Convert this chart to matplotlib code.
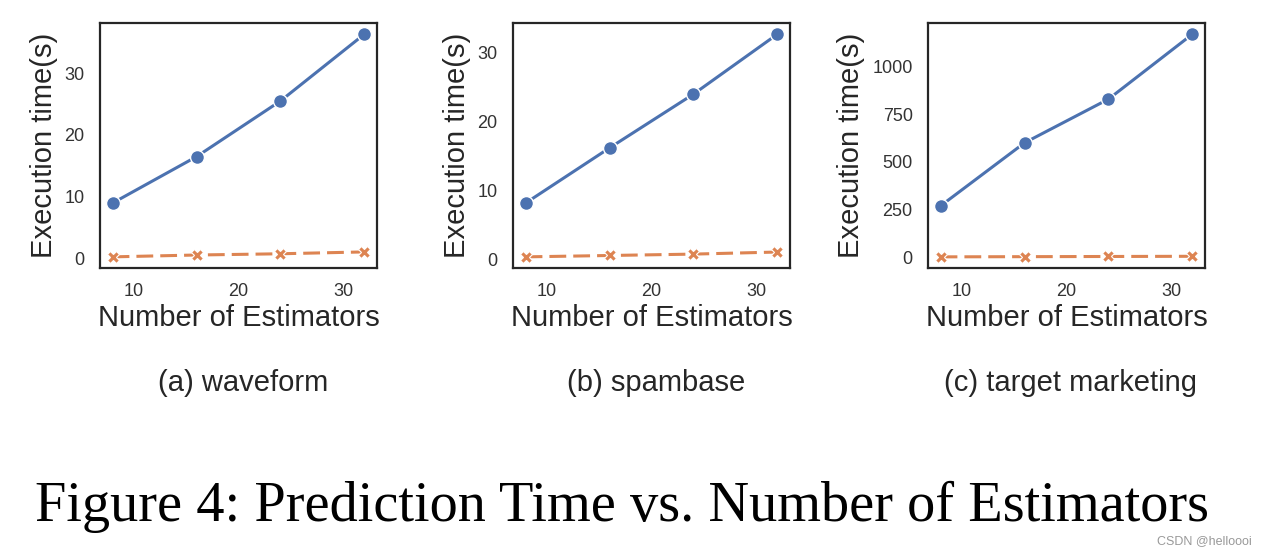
import matplotlib
matplotlib.use("Agg")
import matplotlib.pyplot as plt

plt.rcParams["font.family"] = ["Liberation Sans", "DejaVu Sans"]

estimators = [8, 16, 24, 32]

# slow / fast series for each dataset (seconds)
waveform_slow = [9.0, 16.5, 25.5, 36.3]
waveform_fast = [0.3, 0.6, 0.8, 1.1]
spambase_slow = [8.2, 16.2, 24.0, 32.7]
spambase_fast = [0.4, 0.6, 0.8, 1.1]
target_slow = [271, 600, 828, 1167]
target_fast = [5, 6, 7, 8]

subcaptions = ["(a) waveform", "(b) spambase", "(c) target marketing"]
x_ticks = [10, 20, 30]
y_ticks = [[0, 10, 20, 30], [0, 10, 20, 30], [0, 250, 500, 750, 1000]]

panels = [
    (waveform_slow, waveform_fast),
    (spambase_slow, spambase_fast),
    (target_slow, target_fast),
]

blue = "#4C72B0"
orange = "#DD8452"
text_col = "#262626"

fig = plt.figure(figsize=(12.67, 5.53), dpi=100)
lefts = [100, 513, 928]
W, H = 1267, 553

for i, (slow, fast) in enumerate(panels):
    ax = fig.add_axes([lefts[i] / W, 285 / H, 277 / W, 245 / H])
    ax.plot(estimators, slow, color=blue, lw=2.2, marker="o", ms=10,
            mec="white", mew=1.0)
    ax.plot(estimators, fast, color=orange, lw=2.2, marker="X", ms=8,
            mec="white", mew=0.8, linestyle=(0, (5.5, 2.3)))
    ax.set_xticks(x_ticks)
    ax.set_yticks(y_ticks[i])
    ax.tick_params(length=0, labelsize=13, labelcolor="#333333", pad=11)
    for s in ax.spines.values():
        s.set_color(text_col)
        s.set_linewidth(1.6)
    ax.set_xlabel("Number of Estimators", fontsize=21, color=text_col, labelpad=3)
    ax.set_ylabel("Execution time(s)", fontsize=21, color=text_col, labelpad=5)
    fig.text((lefts[i] + 143) / W, 1 - 383 / H, subcaptions[i], fontsize=21,
             color=text_col, ha="center", va="center")

fig.text(35 / W, 1 - 521 / H, "Figure 4: Prediction Time vs. Number of Estimators",
         fontsize=40.6, family="Liberation Serif", ha="left", va="baseline", color="black")
fig.text(1252 / W, 1 - 541 / H, "CSDN @helloooi", fontsize=9, color="#999999",
         ha="right", va="center")

fig.savefig("out.png", dpi=100, facecolor="white")
